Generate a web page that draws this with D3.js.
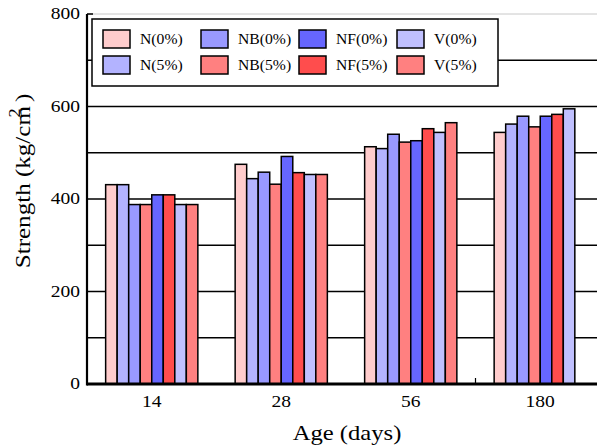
<!DOCTYPE html>
<html><head><meta charset="utf-8">
<script src="https://cdn.jsdelivr.net/npm/d3@7"></script>
<style>
body{margin:0;background:#fff}
svg{display:block}
text{font-family:"Liberation Serif","Times New Roman",serif;fill:#000}
</style>
</head><body><svg id="c" width="597" height="448"></svg>
<script>
const ages = ["14", "28", "56", "180"];
const seriesNames = ["N(0%)", "N(5%)", "NB(0%)", "NB(5%)", "NF(0%)", "NF(5%)", "V(0%)", "V(5%)"];
const seriesColors = ["#ffcccc", "#b3b3ff", "#9999ff", "#ff8080", "#6666ff", "#ff4d4d", "#c0c0ff", "#ff8080"];
const N0  = [431, 475, 513, 544];
const N5  = [431, 444, 509, 562];
const NB0 = [388, 458, 540, 579];
const NB5 = [388, 432, 523, 556];
const NF0 = [409, 492, 526, 579];
const NF5 = [409, 457, 552, 583];
const V0  = [388, 453, 544, 595];
const V5  = [388, 453, 565, null];
const yTickLabels = [0, 200, 400, 600, 800];
const gridValues = [100, 200, 300, 400, 500, 600, 700];

const seriesValues = [N0, N5, NB0, NB5, NF0, NF5, V0, V5];
const legendOrder = [[0, 2, 4, 6], [1, 3, 5, 7]];

const svg = d3.select("#c");
const L = 87, R = 605, T = 14, B = 384;
const x = d3.scaleBand().domain(ages).range([L, R]).paddingInner(0.288).paddingOuter(0.144);
const xs = d3.scaleBand().domain(d3.range(seriesNames.length)).range([0, x.bandwidth()]);
const y = d3.scaleLinear().domain([0, 800]).range([B, T]);

svg.append("line").attr("x1", L).attr("x2", 597).attr("y1", y(800)).attr("y2", y(800))
  .attr("stroke", "#c8c8c8").attr("stroke-width", 1);

svg.append("g").selectAll("line").data(gridValues).join("line")
  .attr("x1", L).attr("x2", 597).attr("y1", d => y(d)).attr("y2", d => y(d))
  .attr("stroke", "#000").attr("stroke-width", 1.5);

const flat = [];
ages.forEach((a, gi) => seriesValues.forEach((s, si) => {
  if (s[gi] != null) flat.push({age: a, si: si, v: s[gi]});
}));
svg.append("g").selectAll("rect").data(flat).join("rect")
  .attr("x", d => x(d.age) + xs(d.si))
  .attr("width", xs.bandwidth())
  .attr("y", d => y(d.v))
  .attr("height", d => y(0) - y(d.v))
  .attr("fill", d => seriesColors[d.si])
  .attr("stroke", "#000").attr("stroke-width", 1.5);

const tx = x("180") - x.step() * x.paddingInner() / 2;
svg.append("line").attr("x1", tx).attr("x2", tx)
  .attr("y1", B).attr("y2", B - 6).attr("stroke", "#000").attr("stroke-width", 1.2);

svg.append("line").attr("x1", L).attr("x2", 597).attr("y1", B).attr("y2", B)
  .attr("stroke", "#000").attr("stroke-width", 3);
svg.append("line").attr("x1", L).attr("x2", L).attr("y1", y(800)).attr("y2", B + 1.5)
  .attr("stroke", "#000").attr("stroke-width", 2.2);
svg.append("line").attr("x1", L).attr("x2", L + 6).attr("y1", y(800)).attr("y2", y(800))
  .attr("stroke", "#000").attr("stroke-width", 1.5);

svg.append("g").selectAll("text").data(yTickLabels).join("text")
  .attr("transform", d => `translate(80,${y(d) + 5}) scale(1.22,1)`)
  .attr("text-anchor", "end").attr("font-size", 16).text(d => d);

svg.append("g").selectAll("text").data(ages).join("text")
  .attr("transform", d => `translate(${x(d) + x.bandwidth() / 2},407) scale(1.22,1)`)
  .attr("text-anchor", "middle").attr("font-size", 16).text(d => d);

svg.append("text").attr("transform", "translate(347,440) scale(1.12,1)")
  .attr("text-anchor", "middle").attr("font-size", 22).text("Age (days)");
const yt = svg.append("text").attr("transform", "translate(30,181) rotate(-90) scale(1.14,1)")
  .attr("text-anchor", "middle").attr("font-size", 22);
yt.append("tspan").text("Strength (kg/cm");
yt.append("tspan").attr("dx", -10).attr("dy", -10).attr("font-size", 16).text("2");
yt.append("tspan").attr("dy", 10).text("  )");

const lg = svg.append("g");
lg.append("rect").attr("x", 92).attr("y", 19).attr("width", 406).attr("height", 67)
  .attr("fill", "#fff").attr("stroke", "#000").attr("stroke-width", 1.5);
legendOrder.forEach((row, ri) => row.forEach((si, ci) => {
  const sx = 103 + ci * 98, sy = 30 + ri * 26;
  lg.append("rect").attr("x", sx).attr("y", sy).attr("width", 27).attr("height", 18)
    .attr("fill", seriesColors[si]).attr("stroke", "#000").attr("stroke-width", 1.5);
  lg.append("text").attr("transform", `translate(${sx + 37},${sy + 14}) scale(1.12,1)`)
    .attr("font-size", 14).text(seriesNames[si]);
}));
</script>
</body></html>
